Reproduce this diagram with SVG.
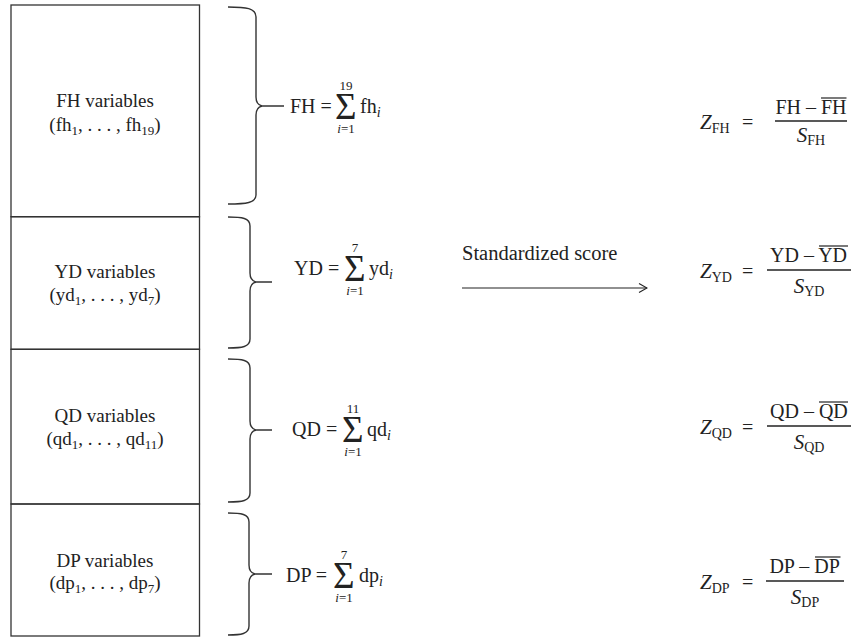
<svg xmlns="http://www.w3.org/2000/svg" width="854" height="637" viewBox="0 0 854 637">
<style>
text{font-family:"Liberation Serif","Times New Roman",serif;fill:#222;font-size:20px}
.lab{text-anchor:middle;font-size:19px}
.sub{font-size:14px}
.lab .sub{font-size:13px}
.it{font-style:italic}
.lim{font-size:13px;text-anchor:middle}
.sig{font-size:37px}
.brace{fill:none;stroke:#333;stroke-width:1.4}
.box{fill:none;stroke:#333;stroke-width:1.3}
.bar{stroke:#222;stroke-width:1.4}
.ov{stroke:#222;stroke-width:1.2}
.mid{text-anchor:middle}
.zz{font-size:21px;font-style:italic}
</style>
<defs>
<marker id="ah" markerWidth="10" markerHeight="10" refX="9" refY="5" orient="auto" markerUnits="userSpaceOnUse">
<path d="M1,0.5 L9,5 L1,9.5" fill="none" stroke="#222" stroke-width="1.1"/>
</marker>
</defs>

<g id="box-fh">
<rect class="box" x="11" y="5" width="188.5" height="211.7"/>
<text class="lab" x="105" y="107">FH variables</text>
<text class="lab" x="105" y="131">(fh<tspan class="sub" dy="4">1</tspan><tspan dy="-4">, . . . , fh</tspan><tspan class="sub" dy="4">19</tspan><tspan dy="-4">)</tspan></text>
</g>
<g id="box-yd">
<rect class="box" x="11" y="216.7" width="188.5" height="132.6"/>
<text class="lab" x="105" y="278">YD variables</text>
<text class="lab" x="105" y="301">(yd<tspan class="sub" dy="4">1</tspan><tspan dy="-4">, . . . , yd</tspan><tspan class="sub" dy="4">7</tspan><tspan dy="-4">)</tspan></text>
</g>
<g id="box-qd">
<rect class="box" x="11" y="349.3" width="188.5" height="154.7"/>
<text class="lab" x="105" y="422">QD variables</text>
<text class="lab" x="105" y="445">(qd<tspan class="sub" dy="4">1</tspan><tspan dy="-4">, . . . , qd</tspan><tspan class="sub" dy="4">11</tspan><tspan dy="-4">)</tspan></text>
</g>
<g id="box-dp">
<rect class="box" x="11" y="504" width="188.5" height="132"/>
<text class="lab" x="105" y="567">DP variables</text>
<text class="lab" x="105" y="589">(dp<tspan class="sub" dy="4">1</tspan><tspan dy="-4">, . . . , dp</tspan><tspan class="sub" dy="4">7</tspan><tspan dy="-4">)</tspan></text>
</g>

<g id="connectors">
<path class="brace" d="M228,7 C246,7 256,8 256,17 L256,97 C256,102 258,105 262,106 C258,107 256,110 256,115 L256,195 C256,203 246,204 228,204 M262,106 H284"/>
<path class="brace" d="M228,217 C242,217 250,218 250,226 L250,273 C250,278 252,281 256,282 C252,283 250,286 250,291 L250,339 C250,347 242,348 228,348 M256,282 H272"/>
<path class="brace" d="M228,359 C242,359 250,360 250,368 L250,421 C250,426 252,429 256,430 C252,431 250,434 250,439 L250,493 C250,501 242,502 228,502 M256,430 H272"/>
<path class="brace" d="M228,513 C241,513 249,514 249,522 L249,565 C249,570 251,573 255,574 C251,575 249,578 249,583 L249,626 C249,634 241,635 228,635 M255,574 H272"/>
<line x1="462" y1="288" x2="647" y2="288" stroke="#222" stroke-width="1.1" marker-end="url(#ah)"/>
</g>

<g id="sum-fh">
<text x="290" y="113">FH =</text>
<text class="sig" x="335" y="119">Σ</text>
<text class="lim" x="346" y="90">19</text>
<text class="lim" x="346" y="133"><tspan class="it">i</tspan>=1</text>
<text x="360" y="113">fh<tspan class="sub it" dy="4">i</tspan></text>
</g>
<g id="sum-yd">
<text x="294" y="275">YD =</text>
<text class="sig" x="344" y="281">Σ</text>
<text class="lim" x="355" y="252">7</text>
<text class="lim" x="355" y="295"><tspan class="it">i</tspan>=1</text>
<text x="369" y="275">yd<tspan class="sub it" dy="4">i</tspan></text>
</g>
<g id="sum-qd">
<text x="292" y="436">QD =</text>
<text class="sig" x="342" y="442">Σ</text>
<text class="lim" x="353" y="413">11</text>
<text class="lim" x="353" y="456"><tspan class="it">i</tspan>=1</text>
<text x="367" y="436">qd<tspan class="sub it" dy="4">i</tspan></text>
</g>
<g id="sum-dp">
<text x="286" y="582">DP =</text>
<text class="sig" x="333" y="588">Σ</text>
<text class="lim" x="344" y="559">7</text>
<text class="lim" x="344" y="602"><tspan class="it">i</tspan>=1</text>
<text x="359" y="582">dp<tspan class="sub it" dy="4">i</tspan></text>
</g>

<g id="label-standardized">
<text x="462" y="260" style="font-size:20.5px">Standardized score</text>
</g>

<g id="z-fh">
<text x="700" y="129"><tspan class="zz">Z</tspan><tspan class="sub" dy="4">FH</tspan></text>
<text x="742" y="129">=</text>
<text x="775.4" y="114">FH – FH</text>
<line class="ov" x1="821" y1="98" x2="846.5" y2="98"/>
<line class="bar" x1="775" y1="121" x2="847" y2="121"/>
<text class="mid" x="811" y="142"><tspan class="zz">S</tspan><tspan class="sub" dy="3">FH</tspan></text>
</g>
<g id="z-yd">
<text x="700" y="278"><tspan class="zz">Z</tspan><tspan class="sub" dy="4">YD</tspan></text>
<text x="742" y="278">=</text>
<text x="770" y="262">YD – YD</text>
<line class="ov" x1="819" y1="246" x2="848" y2="246"/>
<line class="bar" x1="767" y1="270" x2="851" y2="270"/>
<text class="mid" x="809" y="293"><tspan class="zz">S</tspan><tspan class="sub" dy="3">YD</tspan></text>
</g>
<g id="z-qd">
<text x="700" y="434"><tspan class="zz">Z</tspan><tspan class="sub" dy="4">QD</tspan></text>
<text x="742" y="434">=</text>
<text x="770" y="418">QD – QD</text>
<line class="ov" x1="819" y1="402" x2="848" y2="402"/>
<line class="bar" x1="767" y1="426" x2="851" y2="426"/>
<text class="mid" x="809" y="449"><tspan class="zz">S</tspan><tspan class="sub" dy="3">QD</tspan></text>
</g>
<g id="z-dp">
<text x="700" y="589"><tspan class="zz">Z</tspan><tspan class="sub" dy="4">DP</tspan></text>
<text x="742" y="589">=</text>
<text x="769.4" y="573">DP – DP</text>
<line class="ov" x1="815" y1="557" x2="840.5" y2="557"/>
<line class="bar" x1="766" y1="581" x2="844" y2="581"/>
<text class="mid" x="805" y="604"><tspan class="zz">S</tspan><tspan class="sub" dy="3">DP</tspan></text>
</g>
</svg>
